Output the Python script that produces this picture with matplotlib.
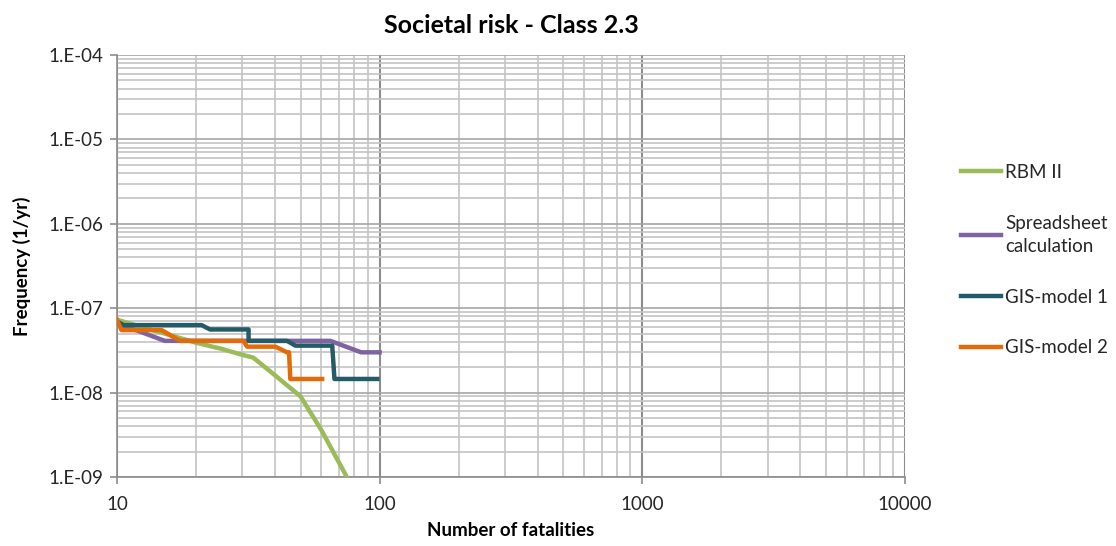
import matplotlib.pyplot as plt
import numpy as np
from matplotlib.ticker import FixedLocator, LogLocator, NullFormatter

plt.rcParams["font.family"] = ["Lato", "DejaVu Sans"]

# FN curves: number of fatalities N vs. cumulative frequency F (1/yr)
rbm_n = [10, 20, 25, 30, 33, 40, 50, 60, 75]
rbm_f = [7.3e-8, 3.9e-8, 3.3e-8, 2.8e-8, 2.6e-8, 1.6e-8, 9.0e-9, 3.6e-9, 1.0e-9]

sheet_n = [10, 12, 15.2, 65, 85, 100]
sheet_f = [6.5e-8, 5.4e-8, 4.1e-8, 4.1e-8, 3.0e-8, 3.0e-8]

gis1_n = [10, 10.6, 21.0, 22.6, 31.7, 31.7, 44.4, 47.8, 66, 67.3, 98]
gis1_f = [7.0e-8, 6.3e-8, 6.3e-8, 5.6e-8, 5.6e-8, 4.1e-8, 4.1e-8, 3.6e-8, 3.6e-8, 1.45e-8, 1.45e-8]

gis2_n = [10, 10.4, 14.8, 17.4, 30.3, 31.3, 40.1, 44.4, 45.2, 45.7, 60.4]
gis2_f = [7.3e-8, 5.5e-8, 5.5e-8, 4.1e-8, 4.1e-8, 3.5e-8, 3.5e-8, 3.0e-8, 3.0e-8, 1.45e-8, 1.45e-8]

series = [
    ("RBM II", rbm_n, rbm_f, "#9BBB59"),
    ("Spreadsheet\ncalculation", sheet_n, sheet_f, "#8064A2"),
    ("GIS-model 1", gis1_n, gis1_f, "#235B69"),
    ("GIS-model 2", gis2_n, gis2_f, "#E36C09"),
]

x_ticks = [10, 100, 1000, 10000]
y_ticks = [1e-9, 1e-8, 1e-7, 1e-6, 1e-5, 1e-4]

fig = plt.figure(figsize=(11.16, 5.46), dpi=100)
ax = fig.add_axes([0.1048, 0.1264, 0.7061, 0.7729])

for label, n, f, color in series:
    ax.plot(n, f, color=color, lw=3.2, label=label, solid_joinstyle="round", zorder=3)

ax.set_xscale("log")
ax.set_yscale("log")
ax.set_xlim(10, 10000)
ax.set_ylim(1e-9, 1e-4)

ax.xaxis.set_major_locator(FixedLocator(x_ticks))
ax.xaxis.set_minor_locator(LogLocator(base=10, subs=np.arange(2, 10)))
ax.xaxis.set_minor_formatter(NullFormatter())
ax.set_xticklabels([str(v) for v in x_ticks])
ax.yaxis.set_major_locator(FixedLocator(y_ticks))
ax.yaxis.set_minor_locator(LogLocator(base=10, subs=np.arange(2, 10)))
ax.yaxis.set_minor_formatter(NullFormatter())
ax.set_yticklabels(["1.E-%02d" % int(round(-np.log10(v))) for v in y_ticks])

ax.grid(which="minor", color="#C4C4C4", lw=1.2)
ax.grid(which="major", axis="y", color="#A6A6A6", lw=1.2)
ax.grid(which="major", axis="x", color="#8C8C8C", lw=1.5)
ax.set_axisbelow(True)

for side in ["top", "right"]:
    ax.spines[side].set_visible(False)
for side in ["left", "bottom"]:
    ax.spines[side].set_color("#8C8C8C")
    ax.spines[side].set_linewidth(1.2)
ax.tick_params(which="major", length=5, color="#8C8C8C", width=1.2,
               labelsize=13.5, labelcolor="#262626", pad=5)
ax.tick_params(which="minor", length=0)
ax.tick_params(axis="x", pad=9)

ax.set_title("Societal risk - Class 2.3", fontsize=18, fontweight="bold", pad=16)
ax.set_xlabel("Number of fatalities", fontsize=13.5, fontweight="bold", labelpad=6)
ax.set_ylabel("Frequency (1/yr)", fontsize=13.5, fontweight="bold", labelpad=12)

leg = ax.legend(loc="upper left", bbox_to_anchor=(1.05, 0.782), frameon=False,
                fontsize=13.5, handlelength=2.1, handletextpad=0.25,
                labelspacing=1.8, labelcolor="#262626")
for t in leg.get_texts():
    t.set_linespacing(1.45)

fig.savefig("out.png", dpi=100)
